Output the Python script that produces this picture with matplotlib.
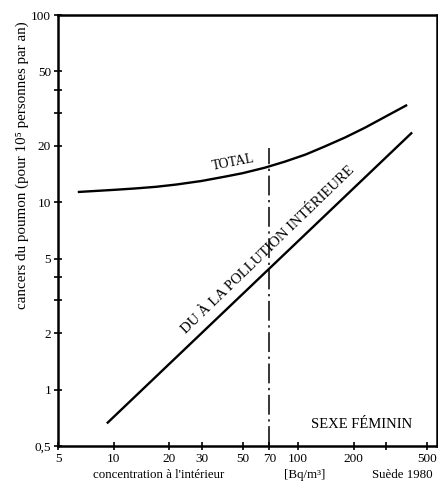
import matplotlib
matplotlib.use("Agg")
import matplotlib.pyplot as plt
from matplotlib.ticker import NullFormatter, FixedLocator

plt.rcParams['font.family'] = ['Liberation Serif', 'DejaVu Serif']

# values
total_x = [6.4, 8, 10, 13, 17, 22, 30, 40, 50, 66, 85, 110, 140, 180, 230, 300, 390]
total_y = [11.35, 11.5, 11.65, 11.85, 12.1, 12.45, 13.0, 13.7, 14.3, 15.3,
           16.5, 18.0, 19.9, 22.2, 25.0, 28.8, 33.1]

indoor_x = [9.2, 415]
indoor_y = [0.66, 23.6]

ref_x = 70
ref_top = 19.6

xticks = [5, 10, 20, 30, 50, 70, 100, 200, 500]
xminor = [300]
yticks = [0.5, 1, 2, 5, 10, 20, 50, 100]
ytick_labels = ['0,5', '1', '2', '5', '10', '20', '50', '100']
yminor = [3, 4, 30, 40]

fig = plt.figure(figsize=(4.38, 4.88), dpi=100)
ax = fig.add_axes([58 / 438, 42 / 488, 379 / 438, 431 / 488])
ax.set_xscale('log')
ax.set_yscale('log')
ax.set_xlim(5, 566)
ax.set_ylim(0.5, 100)

ax.plot(total_x, total_y, color='black', lw=1.7, solid_capstyle='butt',
        solid_joinstyle='round')
ax.plot(indoor_x, indoor_y, color='black', lw=1.7, solid_capstyle='butt')
ax.plot([ref_x, ref_x], [0.5, ref_top], color='black', lw=1.1,
        linestyle=(0, (13, 3, 1.5, 3)))

ax.set_xticks(xticks)
ax.set_xticklabels([str(v) for v in xticks])
ax.xaxis.set_minor_locator(FixedLocator(xminor))
ax.xaxis.set_minor_formatter(NullFormatter())
ax.set_yticks(yticks)
ax.set_yticklabels(ytick_labels)
ax.yaxis.set_minor_locator(FixedLocator(yminor))
ax.yaxis.set_minor_formatter(NullFormatter())

ax.tick_params(which='both', direction='inout', length=6, width=1.2,
               labelsize=9.5, pad=2)
for s in ax.spines.values():
    s.set_linewidth(1.8)

ax.text(0.462, 0.657, 'TOTAL', transform=ax.transAxes, fontsize=9.8,
        rotation=11, ha='center', va='center')
ax.text(0.554, 0.456, 'DU À LA POLLUTION INTÉRIEURE', transform=ax.transAxes,
        fontsize=10.6, rotation=44, ha='center', va='center')
ax.text(0.80, 0.049, 'SEXE FÉMININ', transform=ax.transAxes, fontsize=10.5,
        ha='center', va='center')

fig.text(22 / 438, 1 - 165 / 488, 'cancers du poumon (pour 10⁵ personnes par an)',
         rotation=90, ha='center', va='center', fontsize=10.8)
fig.text(159 / 438, 1 - 475 / 488, "concentration à l'intérieur",
         ha='center', va='center', fontsize=9.3)
fig.text(305 / 438, 1 - 475 / 488, '[Bq/m³]',
         ha='center', va='center', fontsize=9.3)
fig.text(402 / 438, 1 - 475 / 488, 'Suède 1980',
         ha='center', va='center', fontsize=9.3)

fig.savefig('out.png', dpi=100)
